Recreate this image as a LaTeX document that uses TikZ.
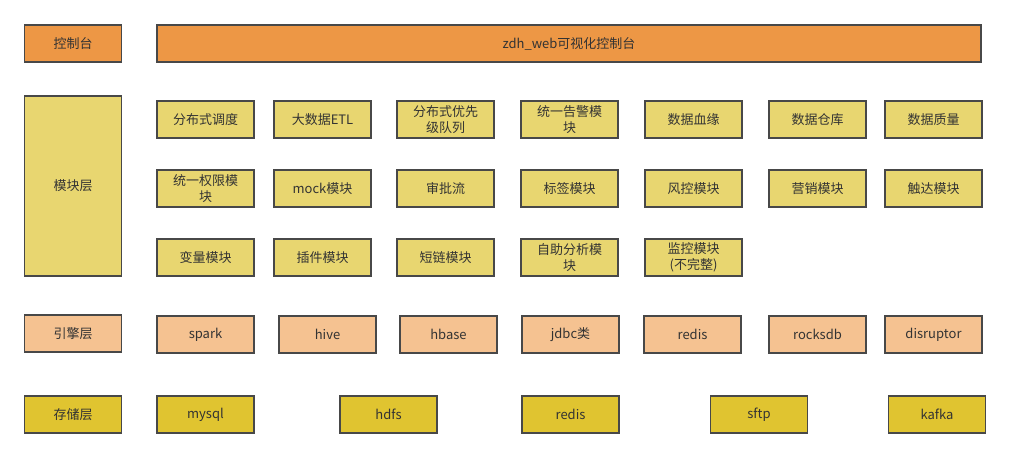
\documentclass[tikz,border=0pt]{standalone}
\usepackage{fontspec}
\setmainfont{Noto Sans CJK SC}
\definecolor{ctlorange}{RGB}{237, 151, 69}
\definecolor{modyellow}{RGB}{232, 214, 112}
\definecolor{engpeach}{RGB}{245, 194, 145}
\definecolor{storgold}{RGB}{224, 196, 48}
\definecolor{edgegray}{RGB}{72, 72, 72}
\definecolor{txtgray}{RGB}{51, 51, 51}
\usepackage{tikz}
\usetikzlibrary{positioning}

\begin{document}
\begin{tikzpicture}[
  x=1pt, y=-1pt,
  box/.style={draw=edgegray, line width=1.4pt, minimum width=97pt, minimum height=37pt,
    inner sep=1pt, align=center, text=txtgray, font=\fontsize{13}{15.5}\selectfont},
  ctlbox/.style={box, fill=ctlorange},
  modbox/.style={box, fill=modyellow},
  engbox/.style={box, fill=engpeach},
  storbox/.style={box, fill=storgold}
]
  \useasboundingbox (0,0) rectangle (1010,458);

  % --- Control layer ---
  \node[ctlbox] (ctl) at (73, 43.5) {控制台};
  \node[ctlbox, minimum width=824pt] (web) at (569, 43.5) {zdh\_web可视化控制台};

  % --- Module layer ---
  \node[modbox, minimum height=180pt] (mod) at (73, 186) {模块层};
  \node[modbox] (sched) at (205.5, 119.5) {分布式调度};
  \node[modbox] (etl) at (322.5, 119.5) {大数据ETL};
  \node[modbox] (queue) at (445.5, 119.5) {分布式优先\\级队列};
  \node[modbox] (alarm) at (569.5, 119.5) {统一告警模\\块};
  \node[modbox] (lineage) at (693.5, 119.5) {数据血缘};
  \node[modbox] (dw) at (817.5, 119.5) {数据仓库};
  \node[modbox] (quality) at (933.5, 119.5) {数据质量};

  \node[modbox] (perm) at (205.5, 188.5) {统一权限模\\块};
  \node[modbox] (mock) at (322.5, 188.5) {mock模块};
  \node[modbox] (flow) at (445.5, 188.5) {审批流};
  \node[modbox] (tag) at (569.5, 188.5) {标签模块};
  \node[modbox] (risk) at (693.5, 188.5) {风控模块};
  \node[modbox] (mkt) at (817.5, 188.5) {营销模块};
  \node[modbox] (reach) at (933.5, 188.5) {触达模块};

  \node[modbox] (var) at (205.5, 257.5) {变量模块};
  \node[modbox] (plugin) at (322.5, 257.5) {插件模块};
  \node[modbox] (short) at (445.5, 257.5) {短链模块};
  \node[modbox] (selfan) at (569.5, 257.5) {自助分析模\\块};
  \node[modbox] (monitor) at (693.5, 257.5) {监控模块\\(不完整)};

  % --- Engine layer ---
  \node[engbox] (eng) at (73, 333.5) {引擎层};
  \node[engbox] (spark) at (205.5, 334.5) {spark};
  \node[engbox] (hive) at (327.5, 334.5) {hive};
  \node[engbox] (hbase) at (448.5, 334.5) {hbase};
  \node[engbox] (jdbc) at (570.5, 334.5) {jdbc类};
  \node[engbox] (eredis) at (692.5, 334.5) {redis};
  \node[engbox] (rocks) at (817.5, 334.5) {rocksdb};
  \node[engbox] (disr) at (933.5, 334.5) {disruptor};

  % --- Storage layer ---
  \node[storbox] (stor) at (73, 414.5) {存储层};
  \node[storbox] (mysql) at (205.5, 414.5) {mysql};
  \node[storbox] (hdfs) at (388.5, 414.5) {hdfs};
  \node[storbox] (sredis) at (570.5, 414.5) {redis};
  \node[storbox] (sftp) at (759, 414.5) {sftp};
  \node[storbox] (kafka) at (937, 414.5) {kafka};
\end{tikzpicture}
\end{document}
